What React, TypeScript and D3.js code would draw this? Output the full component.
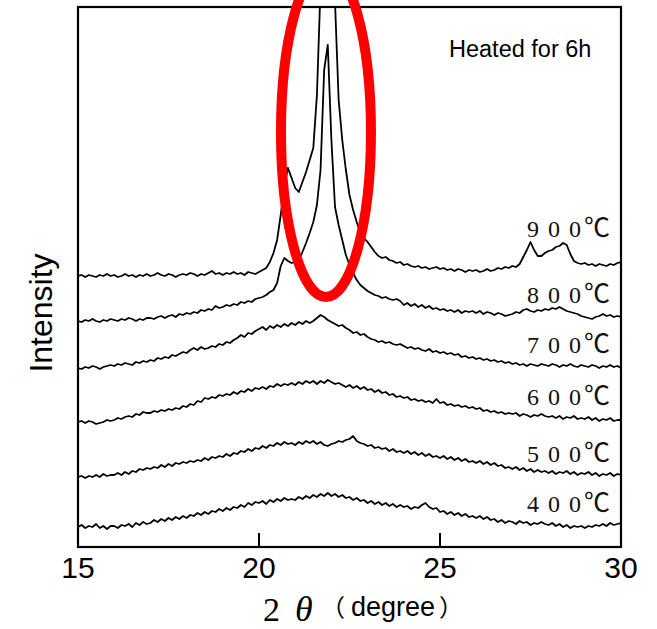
import * as d3 from "d3";

// 2θ sampling grid, 15° to 30° every 0.1°
const twoTheta = d3.range(151).map(i => +(15 + i * 0.1).toFixed(1));

// intensities (a.u., curves already stacked)
const i400 = [
  20, 22, 19, 21, 20, 23, 19, 21, 18, 21,
  21, 19, 22, 21, 23, 20, 24, 22, 25, 23,
  24, 27, 25, 28, 26, 29, 27, 30, 28, 31,
  29, 32, 31, 34, 32, 35, 33, 36, 35, 38,
  36, 39, 37, 40, 39, 42, 40, 44, 42, 45,
  44, 46, 43, 47, 45, 48, 46, 49, 47, 48,
  47, 50, 48, 51, 49, 52, 50, 53, 51, 54,
  51, 53, 50, 52, 49, 50, 47, 49, 46, 47,
  44, 46, 43, 45, 42, 44, 41, 43, 40, 42,
  40, 41, 38, 40, 39, 42, 44, 40, 38, 39,
  35, 36, 33, 35, 32, 34, 31, 33, 30, 31,
  29, 31, 28, 30, 27, 28, 25, 27, 24, 26,
  25, 23, 26, 24, 25, 22, 24, 23, 25, 23,
  22, 24, 21, 23, 20, 22, 19, 21, 20, 21,
  19, 21, 20, 22, 21, 23, 21, 24, 22, 23,
  24,
];

const i500 = [
  70, 71, 69, 71, 70, 72, 70, 73, 71, 72,
  72, 74, 72, 75, 73, 76, 75, 78, 77, 79,
  78, 80, 79, 82, 80, 83, 81, 84, 83, 85,
  84, 86, 85, 87, 86, 89, 87, 90, 89, 91,
  90, 93, 91, 94, 93, 96, 95, 98, 96, 99,
  98, 101, 99, 102, 101, 104, 102, 105, 103, 104,
  102, 105, 103, 106, 104, 106, 103, 105, 102, 101,
  103, 104, 106, 105, 107, 108, 111, 106, 104, 103,
  101, 102, 99, 100, 98, 99, 96, 98, 95, 96,
  94, 96, 93, 95, 92, 94, 91, 93, 90, 91,
  89, 91, 88, 90, 87, 89, 86, 88, 85, 86,
  84, 86, 83, 85, 82, 84, 81, 82, 79, 80,
  78, 80, 77, 79, 76, 78, 75, 77, 75, 76,
  74, 76, 73, 75, 74, 76, 73, 75, 72, 74,
  73, 75, 72, 74, 71, 73, 72, 74, 71, 73,
  72,
];

const i600 = [
  125, 126, 124, 126, 125, 123, 124, 125, 127, 126,
  127, 129, 128, 130, 131, 130, 133, 132, 135, 134,
  134, 136, 135, 137, 136, 138, 137, 139, 138, 141,
  140, 143, 142, 146, 145, 149, 148, 150, 149, 152,
  151, 153, 152, 155, 153, 156, 155, 158, 156, 159,
  158, 160, 158, 161, 160, 163, 161, 163, 162, 164,
  162, 165, 163, 166, 164, 166, 163, 166, 164, 167,
  165, 163, 164, 162, 160, 162, 159, 161, 158, 160,
  157, 158, 155, 157, 154, 155, 152, 153, 150, 151,
  149, 150, 147, 148, 146, 147, 145, 146, 144, 148,
  144, 145, 142, 143, 141, 142, 140, 141, 139, 140,
  138, 139, 136, 137, 135, 136, 134, 135, 133, 134,
  133, 134, 131, 133, 132, 130, 132, 131, 133, 131,
  130, 131, 129, 131, 128, 130, 129, 131, 128, 129,
  128, 130, 127, 129, 126, 128, 127, 129, 126, 127,
  127,
];

const i700 = [
  179, 178, 180, 179, 181, 180, 178, 180, 181, 182,
  181, 183, 182, 184, 183, 182, 185, 184, 186, 185,
  187, 186, 189, 188, 190, 189, 192, 191, 193, 195,
  194, 197, 199, 197, 200, 198, 199, 201, 200, 203,
  202, 205, 204, 207, 209, 212, 210, 214, 213, 216,
  218, 220, 217, 221, 219, 222, 220, 223, 221, 224,
  222, 225, 223, 226, 224, 226, 229, 232, 230, 227,
  225, 223, 221, 222, 219, 217, 214, 215, 212, 213,
  210, 208, 207, 205, 206, 204, 205, 203, 202, 203,
  201, 199, 200, 198, 199, 197, 196, 198, 195, 196,
  194, 195, 193, 194, 192, 193, 190, 191, 189, 190,
  188, 189, 187, 188, 186, 187, 185, 186, 184, 185,
  183, 184, 182, 183, 181, 183, 182, 181, 183, 182,
  181, 183, 182, 180, 182, 181, 183, 181, 180, 182,
  181, 180, 182, 181, 179, 181, 180, 182, 180, 181,
  179,
];

const i800 = [
  226, 225, 227, 226, 228, 226, 225, 227, 226, 228,
  227, 226, 228, 227, 229, 228, 226, 228, 227, 229,
  229, 228, 230, 231, 229, 231, 232, 230, 233, 232,
  234, 233, 235, 234, 237, 236, 238, 237, 241, 239,
  240, 242, 241, 243, 242, 245, 244, 246, 245, 248,
  249, 250, 252, 255, 257, 264, 281, 289, 286, 284,
  285, 287, 295, 304, 314, 325, 342, 377, 477, 502,
  407, 340, 322, 307, 292, 282, 274, 267, 262, 259,
  256, 254, 252, 251, 249, 250, 248, 247, 248, 246,
  242, 244, 241, 243, 240, 242, 239, 241, 238, 239,
  237, 238, 236, 237, 235, 237, 234, 236, 235, 236,
  234, 236, 233, 235, 234, 232, 234, 233, 231, 232,
  233, 235, 234, 237, 238, 236, 235, 237, 236, 238,
  237, 239, 238, 240, 238, 236, 235, 234, 233, 231,
  230, 229, 228, 230, 231, 233, 231, 232, 230, 231,
  230,
];

const i900 = [
  271, 272, 270, 272, 271, 270, 272, 271, 273, 271,
  272, 270, 271, 273, 271, 272, 270, 272, 271, 273,
  271, 272, 274, 272, 271, 273, 272, 270, 272, 273,
  272, 274, 273, 271, 273, 272, 274, 276, 273, 274,
  272, 274, 273, 275, 273, 274, 272, 275, 274, 273,
  275, 277, 279, 285, 294, 307, 332, 362, 379, 369,
  359, 355, 365, 375, 387, 399, 452, 560, 720, 760,
  720, 545, 447, 407, 377, 352, 337, 325, 314, 309,
  305, 300, 295, 291, 289, 290, 287, 286, 284, 285,
  282, 283, 281, 280, 281, 279, 280, 278, 279, 280,
  278, 279, 277, 278, 276, 278, 277, 275, 277, 276,
  277, 275, 276, 278, 276, 277, 279, 278, 280, 279,
  281, 280, 283, 290, 297, 305, 297, 291, 291, 294,
  296, 297, 300, 301, 304, 302, 293, 286, 284, 283,
  284, 282, 283, 281, 283, 282, 281, 283, 282, 284,
  285,
];

const temperatures = ["900", "800", "700", "600", "500", "400"];
const xTicks = [15, 20, 25, 30];

const W = 657;
const H = 629;
const plot = { left: 78, right: 621, top: 7, bottom: 547 };

export default function App() {
  const x = d3.scaleLinear().domain([15, 30]).range([plot.left, plot.right]);
  const y = d3.scaleLinear().domain([0, 540]).range([plot.bottom, plot.top]);

  const curves = [i900, i800, i700, i600, i500, i400];
  // label baselines in intensity units
  const labelLevel = [310, 244, 194, 142, 85, 35];

  const line = d3
    .line<number>()
    .x((_, i) => x(twoTheta[i]))
    .y(d => y(d));

  const serif = "'Liberation Serif', 'DejaVu Serif', serif";
  const sans = "'Liberation Sans', Arial, sans-serif";
  const cjk = "'Noto Sans CJK JP', sans-serif";

  return (
    <svg
      width={W}
      height={H}
      style={{ position: "absolute", left: 0, top: 0, background: "#fff" }}
    >
      <defs>
        <clipPath id="plotClip">
          <rect x={plot.left} y={plot.top} width={plot.right - plot.left} height={plot.bottom - plot.top} />
        </clipPath>
      </defs>
      <rect width={W} height={H} fill="#fff" />

      <g clipPath="url(#plotClip)">
        {curves.map((c, k) => (
          <path
            key={k}
            d={line(c) ?? ""}
            fill="none"
            stroke="#000"
            strokeWidth={1.8}
            strokeLinejoin="round"
          />
        ))}
      </g>

      {temperatures.map((t, k) => {
        const x0 = x(27.4);
        return (
          <text key={t} y={y(labelLevel[k])} fontSize={24} fill="#111">
            <tspan x={`${x0} ${x0 + 21} ${x0 + 42}`} fontFamily={serif}>{t}</tspan>
            <tspan x={x0 + 57} fontFamily={cjk} fontSize={26}>℃</tspan>
          </text>
        );
      })}

      <text x={449} y={57} fontFamily={sans} fontSize={23.5} fill="#000">
        Heated for 6h
      </text>

      {/* frame */}
      <rect
        x={plot.left}
        y={plot.top}
        width={plot.right - plot.left}
        height={plot.bottom - plot.top}
        fill="none"
        stroke="#000"
        strokeWidth={2.2}
      />
      {xTicks.map(t => (
        <g key={t}>
          <line x1={x(t)} x2={x(t)} y1={plot.bottom} y2={plot.bottom - 14} stroke="#000" strokeWidth={2} />
          <text x={x(t)} y={578} fontFamily={sans} fontSize={30} textAnchor="middle" fill="#000">
            {t}
          </text>
        </g>
      ))}

      <text
        transform={`translate(52,${(plot.top + plot.bottom) / 2 + 36}) rotate(-90)`}
        fontFamily={sans}
        fontSize={32}
        textAnchor="middle"
        fill="#000"
      >
        Intensity
      </text>

      <text x={263} y={621} fontFamily={serif} fontSize={34} fill="#000">2</text>
      <text x={295} y={621} fontFamily={serif} fontSize={36} fontStyle="italic" fill="#000">θ</text>
      <text x={321} y={616} fontFamily={cjk} fontSize={24} fill="#000">（</text>
      <text x={351} y={616} fontFamily={sans} fontSize={27} fill="#000">degree</text>
      <text x={439} y={616} fontFamily={cjk} fontSize={24} fill="#000">）</text>

      {/* highlight around the main peak */}
      <ellipse
        cx={x(21.85)}
        cy={y(415)}
        rx={45}
        ry={165}
        fill="none"
        stroke="#ff0000"
        strokeWidth={10}
      />
    </svg>
  );
}
